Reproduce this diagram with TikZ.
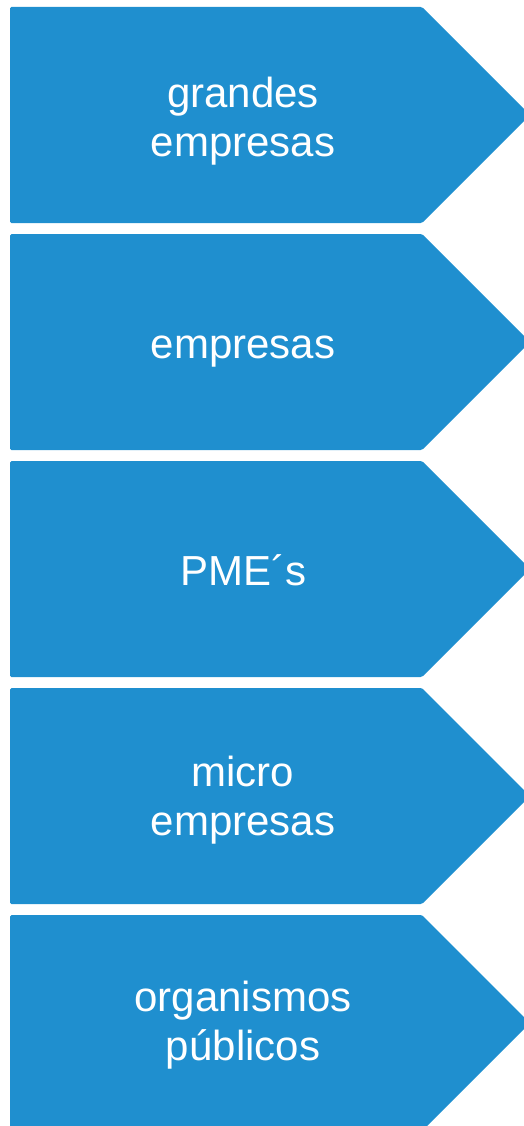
\documentclass[tikz,border=0pt]{standalone}
\usepackage{fontspec}
\setmainfont{Liberation Sans}
\definecolor{chevblue}{RGB}{31,143,207}
\tikzset{
  chev/.style={fill=chevblue, rounded corners=1.5pt},
  lbl/.style={text=white, align=center, inner sep=0pt, anchor=base,
    font=\fontsize{42}{49}\selectfont}
}
\begin{document}
\begin{tikzpicture}[x=1pt,y=-1pt]
\useasboundingbox (0,0) rectangle (524,1126);
\clip (0,0) rectangle (524,1126);
\foreach \i in {0,...,4}{
  \pgfmathsetmacro{\t}{7+227*\i}
  \fill[chev] (10,\t) -- (422,\t) -- (530,\t+108) -- (422,\t+216) -- (10,\t+216) -- cycle;
}
\node[lbl] (t1) at (243,157) {grandes\\empresas};
\node[lbl] (t2) at (243,358) {empresas};
\node[lbl] (t3) at (243,585) {PME\char"00B4 s};
\node[lbl] (t4) at (243,835) {micro\\empresas};
\node[lbl] (t5) at (243,1060) {organismos\\públicos};
\end{tikzpicture}
\end{document}
